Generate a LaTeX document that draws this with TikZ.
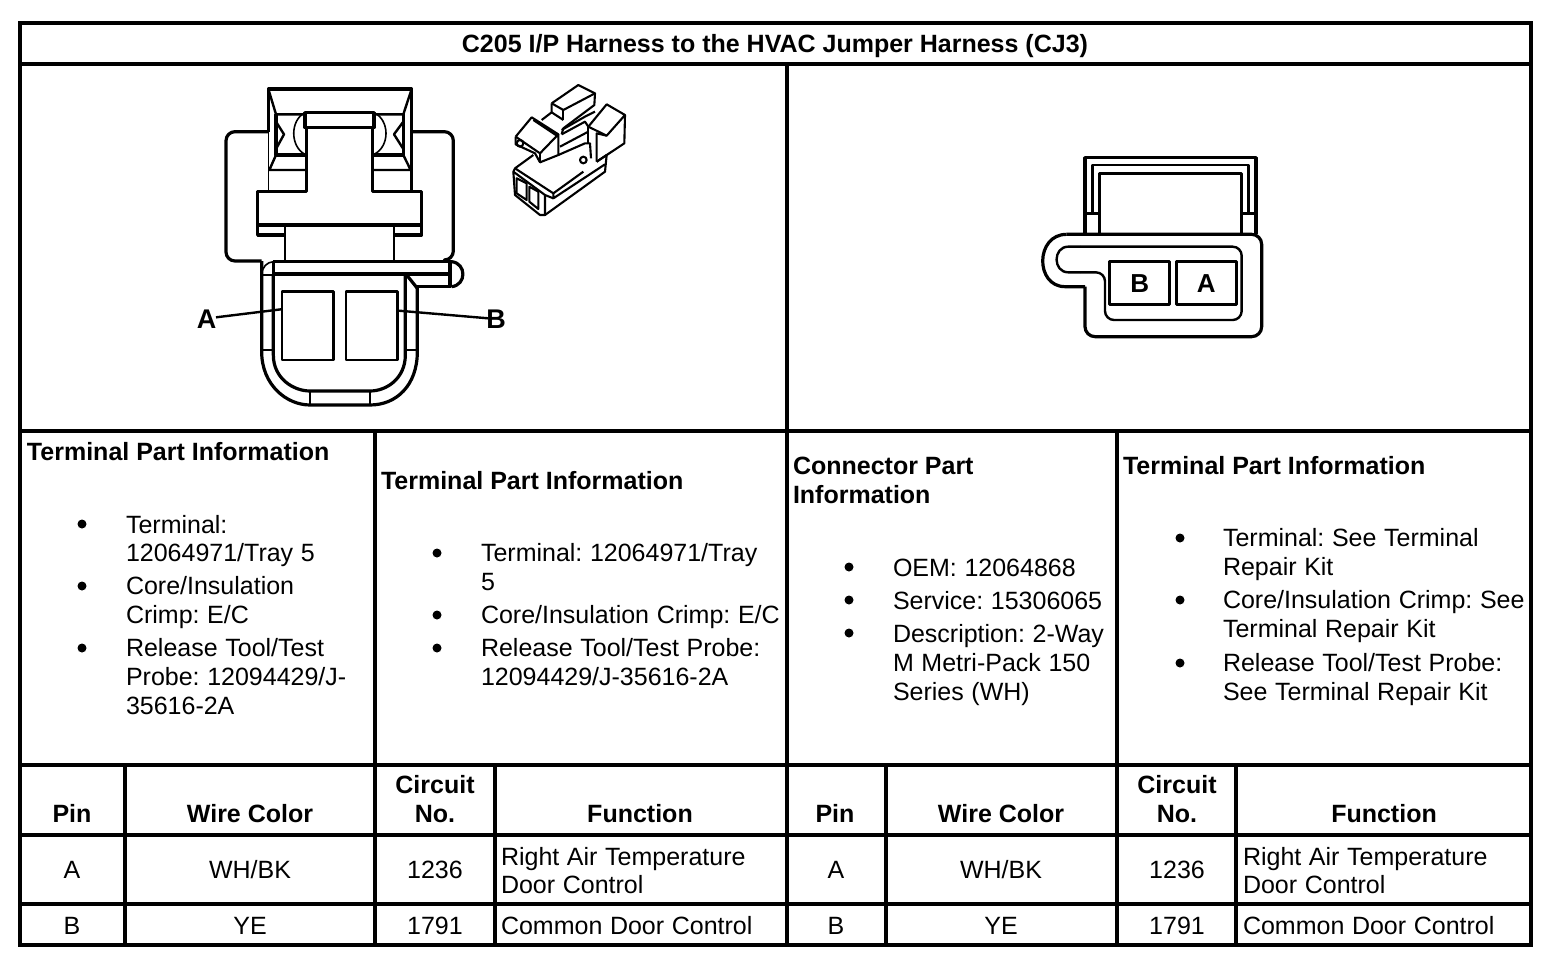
\documentclass[tikz,border=0pt]{standalone}
\usepackage{fontspec}
\setmainfont{Liberation Sans}[WordSpace=1.1,BoldFeatures={WordSpace=1}]
\frenchspacing
\begin{document}
\begin{tikzpicture}[x=1pt,y=-1pt,
  tbl/.style={line width=4pt,black},
  thk/.style={line width=3.2pt,black,line join=round},
  med/.style={line width=2.4pt,black,line join=round},
  thn/.style={line width=1.6pt,black,line join=round},
  iso/.style={line width=2.1pt,black,line join=round},
  txt/.style={font=\fontsize{25}{29}\selectfont,inner sep=0pt,outer sep=0pt,align=left,anchor=base west},
  bld/.style={txt,font=\fontsize{25}{29}\selectfont\bfseries},
  ctr/.style={font=\fontsize{25}{29}\selectfont,inner sep=0pt,outer sep=0pt,align=center,anchor=base},
  cbd/.style={ctr,font=\fontsize{25}{29}\selectfont\bfseries},
  dot/.style={circle,fill=black,inner sep=0pt,minimum size=9pt},
  lab/.style={font=\fontsize{27}{29}\selectfont\bfseries,inner sep=0pt,anchor=center}]
\useasboundingbox (0,0) rectangle (1568,964);
% table
\draw[tbl] (20,23) rectangle (1531,945);
\draw[tbl] (20,64) -- (1531,64);
\draw[tbl] (20,431) -- (1531,431);
\draw[tbl] (20,765) -- (1531,765);
\draw[tbl] (20,835) -- (1531,835);
\draw[tbl] (20,904) -- (1531,904);
\draw[tbl] (787,64) -- (787,945);
\draw[tbl] (375,431) -- (375,945);
\draw[tbl] (1117,431) -- (1117,945);
\draw[tbl] (125,765) -- (125,945);
\draw[tbl] (495,765) -- (495,945);
\draw[tbl] (886,765) -- (886,945);
\draw[tbl] (1236,765) -- (1236,945);
% title
\node[cbd] (title) at (775,52) {C205 I/P Harness to the HVAC Jumper Harness (CJ3)};
% column 1
\node[bld] (h1) at (27,460) {Terminal Part Information};
\node[dot] (b11) at (82,524) {};
\node[txt] (t11a) at (126,533) {Terminal:};
\node[txt] (t11b) at (126,561) {12064971/Tray 5};
\node[dot] (b12) at (82,586) {};
\node[txt] (t12a) at (126,594) {Core/Insulation};
\node[txt] (t12b) at (126,623) {Crimp: E/C};
\node[dot] (b13) at (82,648) {};
\node[txt] (t13a) at (126,656) {Release Tool/Test};
\node[txt] (t13b) at (126,685) {Probe: 12094429/J-};
\node[txt] (t13c) at (126,714) {35616-2A};
% column 2
\node[bld] (h2) at (381,489) {Terminal Part Information};
\node[dot] (b21) at (437,553) {};
\node[txt] (t21a) at (481,561) {Terminal: 12064971/Tray};
\node[txt] (t21b) at (481,590) {5};
\node[dot] (b22) at (437,615) {};
\node[txt] (t22) at (481,623) {Core/Insulation Crimp: E/C};
\node[dot] (b23) at (437,648) {};
\node[txt] (t23a) at (481,656) {Release Tool/Test Probe:};
\node[txt] (t23b) at (481,685) {12094429/J-35616-2A};
% column 3
\node[bld] (h3a) at (793,474) {Connector Part};
\node[bld] (h3b) at (793,503) {Information};
\node[dot] (b31) at (849,567) {};
\node[txt] (t31) at (893,576) {OEM: 12064868};
\node[dot] (b32) at (849,600) {};
\node[txt] (t32) at (893,609) {Service: 15306065};
\node[dot] (b33) at (849,633) {};
\node[txt] (t33a) at (893,642) {Description: 2-Way};
\node[txt] (t33b) at (893,671) {M Metri-Pack 150};
\node[txt] (t33c) at (893,700) {Series (WH)};
% column 4
\node[bld] (h4) at (1123,474) {Terminal Part Information};
\node[dot] (b41) at (1180,538) {};
\node[txt] (t41a) at (1223,546) {Terminal: See Terminal};
\node[txt] (t41b) at (1223,575) {Repair Kit};
\node[dot] (b42) at (1180,600) {};
\node[txt] (t42a) at (1223,608) {Core/Insulation Crimp: See};
\node[txt] (t42b) at (1223,637) {Terminal Repair Kit};
\node[dot] (b43) at (1180,663) {};
\node[txt] (t43a) at (1223,671) {Release Tool/Test Probe:};
\node[txt] (t43b) at (1223,700) {See Terminal Repair Kit};
% header left
\node[cbd] (p1) at (72,822) {Pin};
\node[cbd] (w1) at (250,822) {Wire Color};
\node[cbd] (c1a) at (435,793) {Circuit};
\node[cbd] (c1b) at (435,822) {No.};
\node[cbd] (f1) at (640,822) {Function};
% header right
\node[cbd] (p2) at (835,822) {Pin};
\node[cbd] (w2) at (1001,822) {Wire Color};
\node[cbd] (c2a) at (1177,793) {Circuit};
\node[cbd] (c2b) at (1177,822) {No.};
\node[cbd] (f2) at (1384,822) {Function};
% rows left
\node[ctr] (ra1) at (72,878) {A};
\node[ctr] (ra2) at (250,878) {WH/BK};
\node[ctr] (ra3) at (435,878) {1236};
\node[txt] (ra4) at (501,865) {Right Air Temperature};
\node[txt] (ra5) at (501,893) {Door Control};
\node[ctr] (rb1) at (72,934) {B};
\node[ctr] (rb2) at (250,934) {YE};
\node[ctr] (rb3) at (435,934) {1791};
\node[txt] (rb4) at (501,934) {Common Door Control};
% rows right
\node[ctr] (sa1) at (836,878) {A};
\node[ctr] (sa2) at (1001,878) {WH/BK};
\node[ctr] (sa3) at (1177,878) {1236};
\node[txt] (sa4) at (1243,865) {Right Air Temperature};
\node[txt] (sa5) at (1243,893) {Door Control};
\node[ctr] (sb1) at (836,934) {B};
\node[ctr] (sb2) at (1001,934) {YE};
\node[ctr] (sb3) at (1177,934) {1791};
\node[txt] (sb4) at (1243,934) {Common Door Control};
% left connector
\begin{scope}[shift={(190,75)},x=0.33333pt,y=-0.33333pt]
  \draw[thk,rounded corners=9pt] (235,170) -- (108,170) -- (108,558) -- (215,558);
  \draw[thk,rounded corners=9pt] (665,170) -- (790,170) -- (790,555) -- (770,555);
  \draw[thk] (235,170) -- (235,42) -- (665,42) -- (665,345);
  \draw[thn] (235,170) -- (235,345);
  \draw[med] (235,42) -- (258,118) -- (345,118);
  \draw[med] (665,42) -- (640,118) -- (552,118);
  \draw[thk] (345,113) rectangle (552,158);
  \draw[thk] (258,118) -- (258,240) -- (350,240);
  \draw[thk] (640,118) -- (640,240) -- (548,240);
  \draw[med] (258,140) -- (282,178) -- (258,222);
  \draw[med] (640,140) -- (612,178) -- (640,222);
  \draw[thn] (345,113) .. controls (300,135) and (300,215) .. (345,238);
  \draw[thn] (552,113) .. controls (600,135) and (600,215) .. (552,238);
  \draw[med] (258,240) -- (238,285) -- (350,285);
  \draw[med] (640,240) -- (662,285) -- (548,285);
  \draw[thk] (350,158) -- (350,350) -- (203,350) -- (203,480) -- (285,480);
  \draw[thk] (548,158) -- (548,350) -- (695,350) -- (695,480) -- (612,480);
  \draw[thk] (203,450) -- (695,450);
  \draw[med] (285,450) -- (285,558);
  \draw[med] (612,450) -- (612,558);
  \draw[thk] (250,560) -- (785,560);
  \draw[thk] (250,597) -- (780,597);
  \draw[med] (250,560) -- (250,597);
  \draw[thk] (780,560) -- (780,635) -- (682,635);
  \draw[thk] (785,560) .. controls (830,565) and (830,630) .. (785,635);
  \draw[thk] (650,600) -- (682,640);
  \draw[thn] (215,597) .. controls (218,575) and (230,562) .. (250,560);
  % U shapes
  \draw[thk] (215,558) -- (215,830) .. controls (215,930) and (290,990) .. (360,990) -- (540,990)
     .. controls (620,990) and (682,930) .. (682,830) -- (682,635);
  \draw[thk] (250,597) -- (250,840) .. controls (250,910) and (310,948) .. (360,948) -- (540,948)
     .. controls (590,948) and (646,910) .. (646,840) -- (646,600);
  \draw[med] (215,600) -- (250,600);
  \draw[med] (215,825) -- (250,825);
  \draw[med] (646,825) -- (682,825);
  \draw[med] (360,948) -- (360,990);
  \draw[med] (540,948) -- (540,990);
  \node[draw,med,minimum width=51.3pt,minimum height=68.3pt,inner sep=0pt] (pinA) at (353.5,752) {};
  \node[draw,med,minimum width=51.3pt,minimum height=68.3pt,inner sep=0pt] (pinB) at (545,752) {};
  \node[lab] (lblA) at (50,733) {A};
  \node[lab] (lblB) at (918,733) {B};
  \coordinate (ca) at (pinA.west |- 0,703);
  \coordinate (cb) at (pinB.east |- 0,707);
  \coordinate (la) at (78,727);
  \coordinate (lb) at (895,730);
  \draw[med] (la) -- (ca);
  \draw[med] (cb) -- (lb);
\end{scope}
% isometric view
\begin{scope}[shift={(495,75)},x=0.33333pt,y=-0.33333pt]
  \draw[iso] (170,85) -- (250,30) -- (300,55) -- (298,90) -- (205,160) -- (200,178);
  \draw[iso] (170,85) -- (205,105) -- (300,55);
  \draw[iso] (205,105) -- (205,135);
  \draw[iso] (170,85) -- (170,112) -- (140,135);
  \draw[iso] (170,112) -- (205,135);
  \draw[iso] (62,185) -- (110,127) -- (190,178) -- (135,235) -- (62,185);
  \draw[iso] (115,135) -- (190,185);
  \draw[iso] (62,185) -- (62,208) -- (120,235) -- (135,262) -- (190,240) -- (190,178);
  \draw[iso] (135,235) -- (135,262);
  \draw[iso] (75,205) circle (10);
  \draw[iso] (200,178) -- (270,140) -- (280,155);
  \draw[iso] (200,165) -- (270,125) -- (300,110);
  \draw[iso] (195,215) -- (280,170);
  \draw[iso] (190,240) -- (270,205) -- (285,205) -- (288,250);
  \draw[iso] (280,155) -- (335,88) -- (390,120) -- (335,182) -- (280,155);
  \draw[iso] (335,182) -- (305,175) -- (305,260);
  \draw[iso] (390,120) -- (388,205) -- (305,260);
  \draw[iso] (280,155) -- (280,205);
  \draw[iso] (265,255) circle (10);
  \draw[iso] (115,240) -- (60,280) -- (175,355) -- (265,290);
  \draw[iso] (60,280) -- (55,290) -- (60,360) -- (135,420) -- (150,420) -- (330,290) -- (335,240) -- (305,260);
  \draw[iso] (55,290) -- (150,360) -- (150,420);
  \draw[iso] (175,355) -- (175,370) -- (330,268);
  \draw[iso] (150,360) -- (175,370);
  \draw[iso] (65,310) -- (95,325) -- (95,375) -- (65,355) -- cycle;
  \draw[iso] (103,335) -- (130,350) -- (130,402) -- (103,380) -- cycle;
\end{scope}
% right connector
\begin{scope}[shift={(1030,145)},x=0.33333pt,y=-0.33333pt]
  \draw[thk] (165,268) -- (165,38) -- (678,38) -- (678,268);
  \draw[med] (188,205) -- (188,60) -- (655,60) -- (655,205);
  \draw[thk] (208,268) -- (208,85) -- (635,85) -- (635,268);
  \draw[med] (165,205) -- (208,205);
  \draw[med] (635,205) -- (678,205);
  \draw[thk,rounded corners=10pt] (110,268) -- (695,268) -- (695,575) -- (165,575) -- (165,425);
  \draw[thk] (165,425) -- (105,425) .. controls (15,425) and (15,268) .. (110,268);
  \draw[med,rounded corners=9pt] (150,305) -- (635,305) -- (635,525) -- (225,525) -- (225,382) -- (150,382);
  \draw[med] (150,305) -- (115,305) .. controls (68,305) and (68,382) .. (115,382) -- (150,382);
  \node[draw,thk,minimum width=60pt,minimum height=43pt,inner sep=0pt,font=\fontsize{26}{29}\selectfont\bfseries] (boxB) at (329,415) {B};
  \node[draw,thk,minimum width=60pt,minimum height=43pt,inner sep=0pt,font=\fontsize{26}{29}\selectfont\bfseries] (boxA) at (529,415) {A};
\end{scope}
\end{tikzpicture}
\end{document}
